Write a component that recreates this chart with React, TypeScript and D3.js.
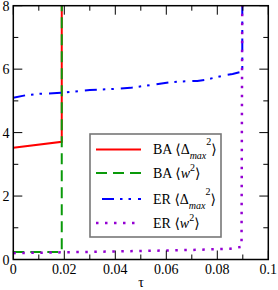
import React from "react";
import * as d3 from "d3";

const W = 278, H = 290;
const xTicksMajor = [0, 0.02, 0.04, 0.06, 0.08, 0.1];
const xTickLabels = ["0", "0.02", "0.04", "0.06", "0.08", "0.1"];
const xTicksMinor = [0.01, 0.03, 0.05, 0.07, 0.09];
const yTicksMajor = [0, 2, 4, 6, 8];
const yTicksMinor = [1, 3, 5, 7];

const baDelta: [number, number][] = [[0, 3.52], [0.019, 3.71], [0.019, 8.5]];
const baW: [number, number][] = [[0, 0.24], [0.019, 0.24], [0.019, 8.5]];
const erDelta: [number, number][] = [
  [0, 5.1], [0.005, 5.18], [0.01, 5.22], [0.02, 5.26], [0.03, 5.34], [0.04, 5.38],
  [0.046, 5.41], [0.0616, 5.59], [0.0655, 5.61], [0.0722, 5.63], [0.075, 5.66],
  [0.08, 5.75], [0.083, 5.81], [0.086, 5.85], [0.0898, 5.92], [0.0898, 8.5],
];
const erW: [number, number][] = [
  [0, 0.2], [0.03, 0.24], [0.05, 0.27], [0.07, 0.3], [0.085, 0.34], [0.0895, 0.4], [0.0898, 8.5],
];

const seriesColors = ["#ff0000", "#0a9a0a", "#0000ff", "#9400d3"];
const seriesDash = ["none", "11,6", "12,6,2.5,6,2.5,7", "2.5,6.5"];
const seriesWidth = [2, 2, 2, 2.5];
const legendPrefixes = ["BA", "BA", "ER", "ER"];
const legendKinds = ["delta", "w", "delta", "w"];

export default function App() {
  const left = 13.3, right = 268.3, top = 5.7, bottom = 259.5;
  const x = d3.scaleLinear().domain([0, 0.1]).range([left, right]);
  const y = d3.scaleLinear().domain([0, 8]).range([bottom, top]);
  const line = d3.line<[number, number]>().x(d => x(d[0])).y(d => y(d[1]));
  const data = [baDelta, baW, erDelta, erW];
  const font = "Liberation Serif, Times New Roman, DejaVu Serif, serif";
  const major = 9, minor = 5;

  const legRows = [149.5, 173, 199, 223];

  return (
    <svg width={W} height={H} style={{ position: "absolute", left: 0, top: 0, fontFamily: font }}>
      <rect x={0} y={0} width={W} height={H} fill="white" />
      <defs>
        <clipPath id="plot">
          <rect x={left} y={top} width={right - left} height={bottom - top} />
        </clipPath>
      </defs>
      <g clipPath="url(#plot)">
        {data.map((d, i) => (
          <path key={i} d={line(d) || ""} fill="none" stroke={seriesColors[i]}
            strokeWidth={seriesWidth[i]} strokeDasharray={seriesDash[i]} />
        ))}
      </g>
      <g stroke="black" strokeWidth={1}>
        {xTicksMajor.map((t, i) => (
          <g key={"xM" + i}>
            <line x1={x(t)} x2={x(t)} y1={bottom} y2={bottom - major} />
            <line x1={x(t)} x2={x(t)} y1={top} y2={top + major} />
          </g>
        ))}
        {xTicksMinor.map((t, i) => (
          <g key={"xm" + i}>
            <line x1={x(t)} x2={x(t)} y1={bottom} y2={bottom - minor} />
            <line x1={x(t)} x2={x(t)} y1={top} y2={top + minor} />
          </g>
        ))}
        {yTicksMajor.map((t, i) => (
          <g key={"yM" + i}>
            <line x1={left} x2={left + major} y1={y(t)} y2={y(t)} />
            <line x1={right} x2={right - major} y1={y(t)} y2={y(t)} />
          </g>
        ))}
        {yTicksMinor.map((t, i) => (
          <g key={"ym" + i}>
            <line x1={left} x2={left + minor} y1={y(t)} y2={y(t)} />
            <line x1={right} x2={right - minor} y1={y(t)} y2={y(t)} />
          </g>
        ))}
      </g>
      <rect x={left} y={top} width={right - left} height={bottom - top} fill="none" stroke="black" strokeWidth={1.5} />
      {xTicksMajor.map((t, i) => (
        <text key={"xl" + i} x={x(t)} y={273.5} fontSize={14} textAnchor="middle">{xTickLabels[i]}</text>
      ))}
      {yTicksMajor.map((t, i) => (
        <text key={"yl" + i} x={9.5} y={y(t) + 5} fontSize={14} textAnchor="end">{String(t)}</text>
      ))}
      <text x={141} y={287} fontSize={14} textAnchor="middle">τ</text>
      <rect x={90} y={134} width={131} height={103} fill="white" stroke="#777" strokeWidth={1.6} />
      {legRows.map((ry, i) => (
        <g key={"lg" + i}>
          <line x1={96} x2={141} y1={ry} y2={ry} stroke={seriesColors[i]} strokeWidth={seriesWidth[i]}
            strokeDasharray={seriesDash[i]} strokeDashoffset={i === 2 ? 30 : 0} />
          {legendKinds[i] === "delta" ? (
            <text x={153} y={ry + 4.5} fontSize={14}>
              {legendPrefixes[i] + " \u27E8\u0394"}
              <tspan fontSize={10} fontStyle="italic" dy={5}>max</tspan>
              <tspan fontSize={10} dy={-14}>2</tspan>
              <tspan dy={9}>{"\u27E9"}</tspan>
            </text>
          ) : (
            <text x={153} y={ry + 4.5} fontSize={14}>
              {legendPrefixes[i] + " \u27E8"}
              <tspan fontStyle="italic">w</tspan>
              <tspan fontSize={10} dy={-7}>2</tspan>
              <tspan dy={7}>{"\u27E9"}</tspan>
            </text>
          )}
        </g>
      ))}
    </svg>
  );
}
